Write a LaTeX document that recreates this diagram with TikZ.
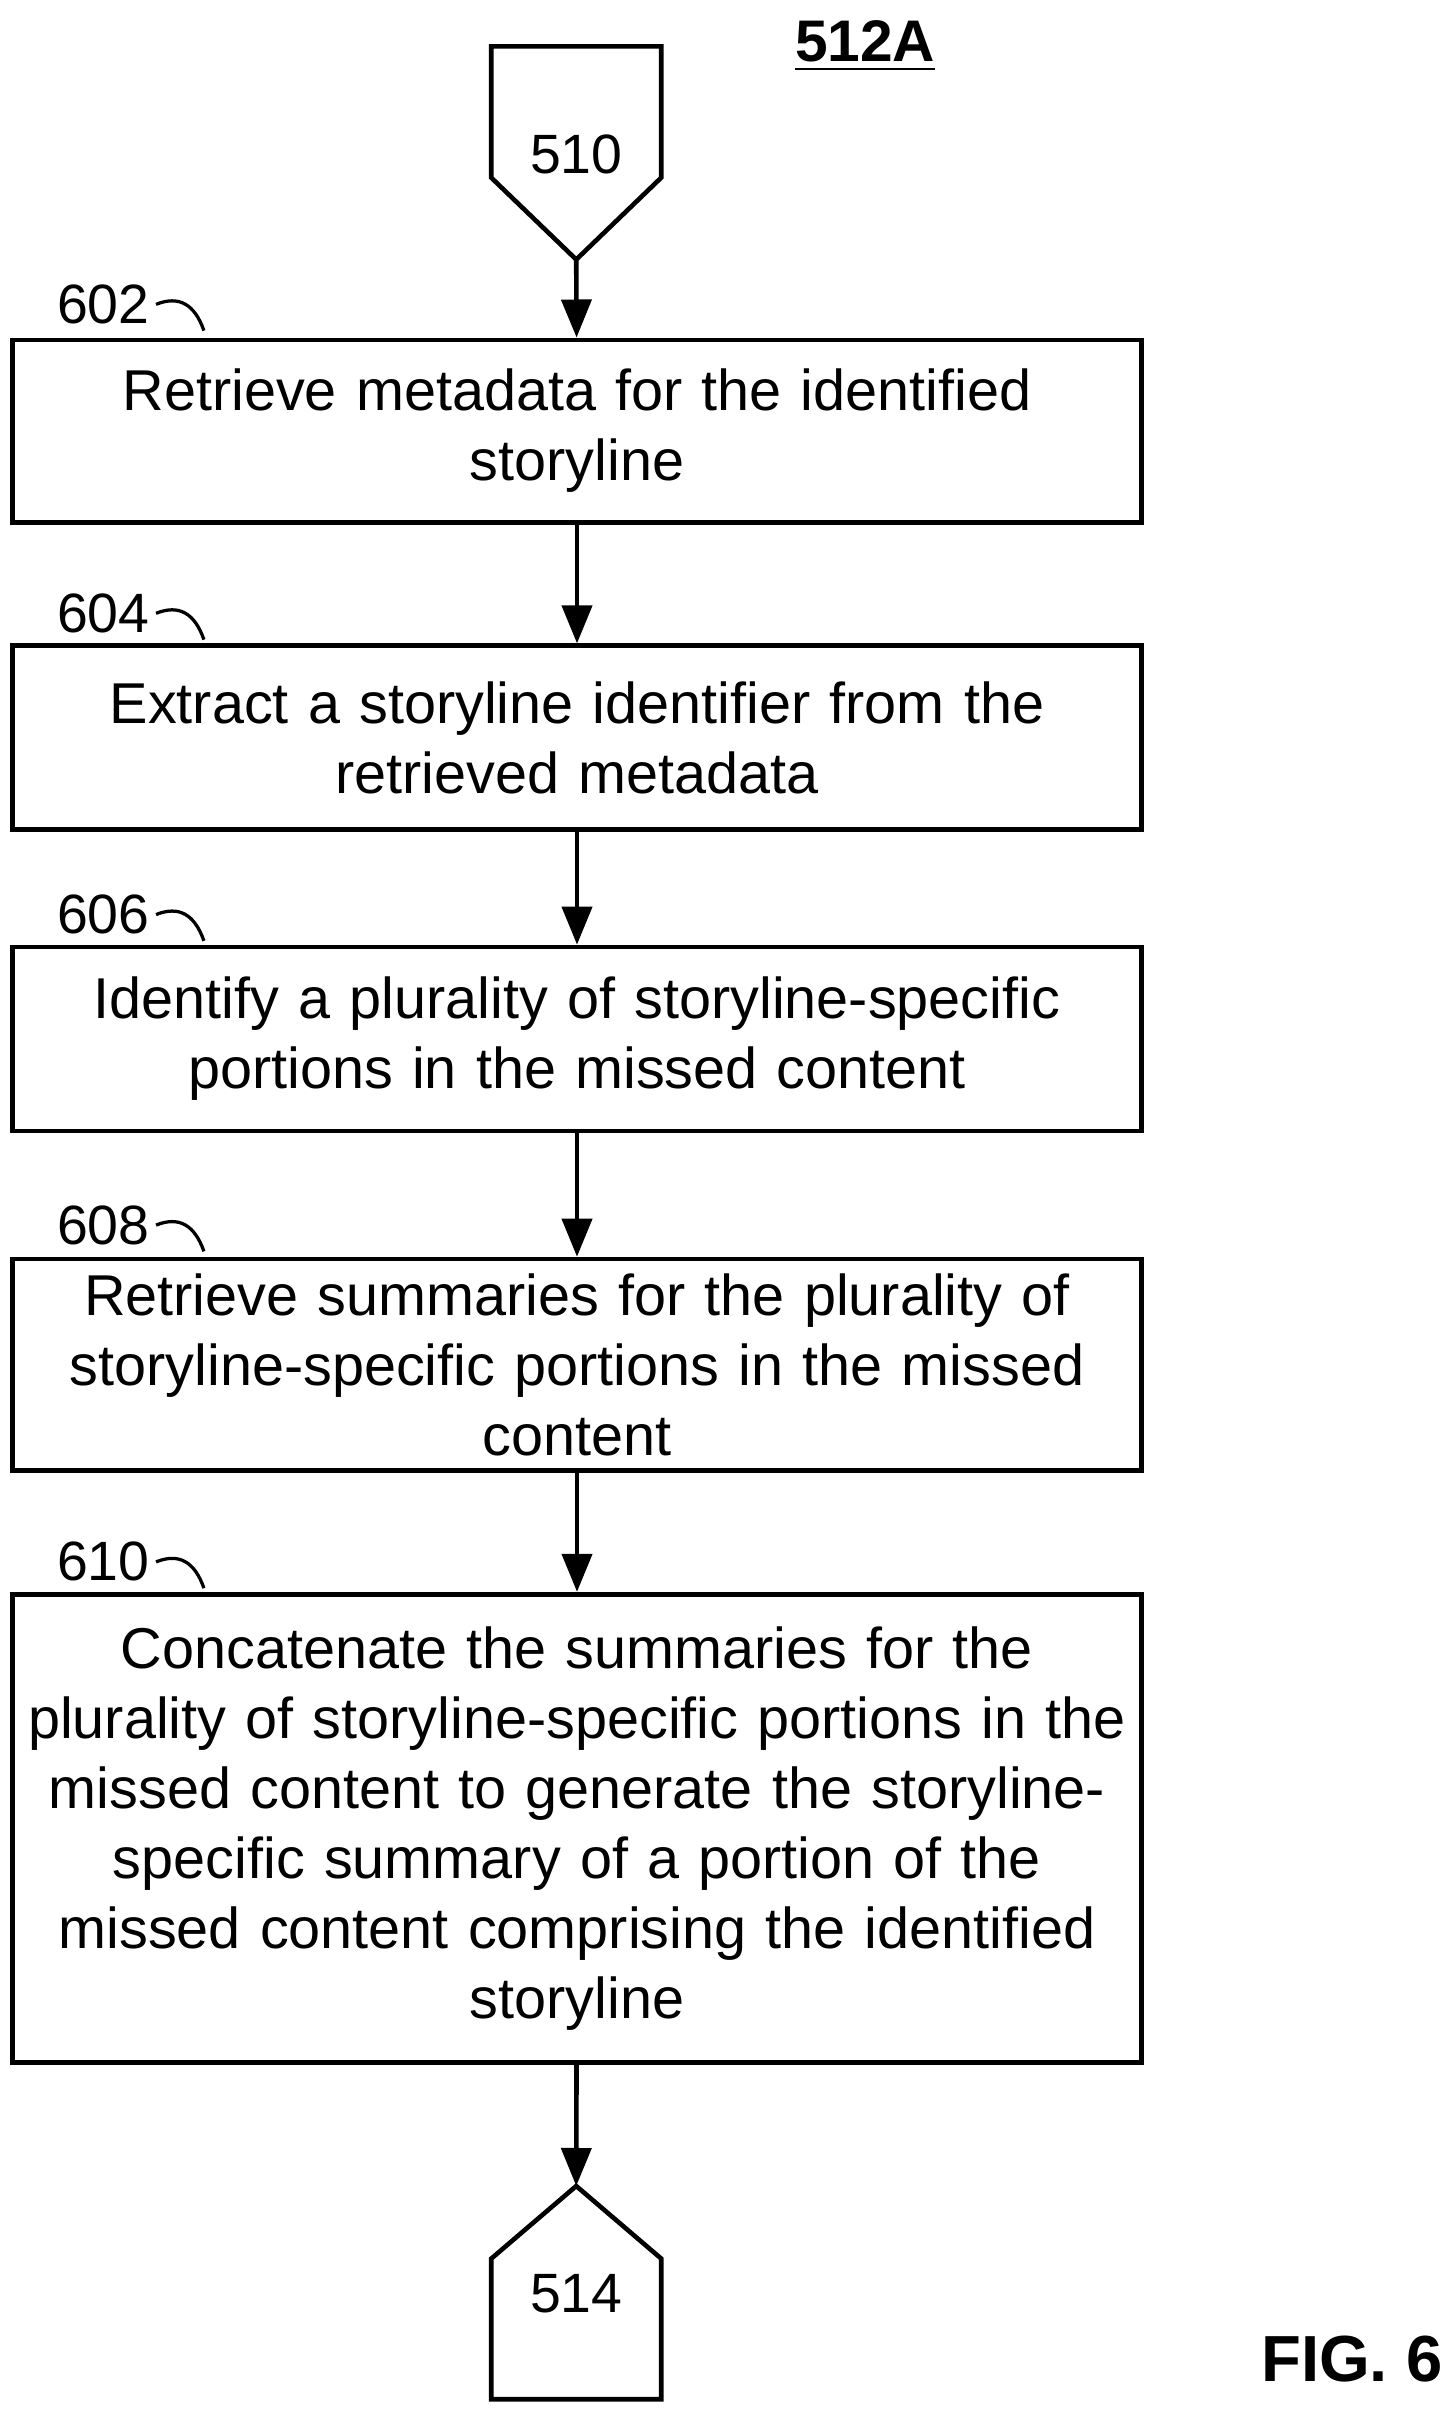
\documentclass[tikz,border=0pt]{standalone}
\usepackage{fontspec}
\setmainfont{Liberation Sans}
\usetikzlibrary{arrows.meta}

\tikzset{
    stepbox/.style={rectangle,draw,line width=0.85pt,minimum width=7.15cm,
        text width=7.3cm,align=center,inner sep=0pt,
        font=\fontsize{10.6}{12.9}\selectfont},
    flow/.style={line width=0.85pt,-{Triangle[length=7pt,width=5.5pt]}},
    tag/.style={font=\fontsize{10.2}{12}\selectfont},
}

\begin{document}
\begin{tikzpicture}[x=0.01cm,y=-0.01cm]
    \useasboundingbox (0,0) rectangle (940,1560);
    \node[font=\bfseries\fontsize{10.8}{12}\selectfont] (title) at (560,30) {\underline{512A}};
    % off-page connectors
    \draw[line width=0.85pt] (318,30) -- (428,30) -- (428,115) -- (373,168) -- (318,115) -- cycle;
    \coordinate (in) at (373,168);
    \node[tag] (c510) at (373,100) {510};
    \draw[line width=0.85pt] (373,1415) -- (428,1462) -- (428,1553) -- (318,1553) -- (318,1462) -- cycle;
    \coordinate (out) at (373,1415);
    \node[tag] (c514) at (373,1485) {514};
    % steps
    \node[stepbox,minimum height=1.18cm] (s602) at (373.5,279) {Retrieve metadata for the identified\\storyline};
    \node[stepbox,minimum height=1.19cm] (s604) at (373.5,477.5) {Extract a storyline identifier from the\\retrieved metadata};
    \node[stepbox,minimum height=1.19cm] (s606) at (373.5,672.5) {Identify a plurality of storyline-specific\\portions in the missed content};
    \node[stepbox,minimum height=1.37cm] (s608) at (373.5,883.5) {Retrieve summaries for the plurality of\\storyline-specific portions in the missed\\content};
    \node[stepbox,minimum height=3.03cm] (s610) at (373.5,1183.5) {Concatenate the summaries for the\\plurality of storyline-specific portions in the\\missed content to generate the storyline-\\specific summary of a portion of the\\missed content comprising the identified\\storyline};
    % labels
    \foreach \n/\y in {602/197,604/397,606/592,608/793,610/1011} {
        \node[tag,anchor=east,inner sep=1pt] (l\n) at (101,\y) {\n};
        \draw[line width=0.6pt] (l\n.east) .. controls (116,\y-6) and (126,\y) .. (132,\y+17);
    }
    % arrows
    \draw[flow] (in) -- (s602);
    \draw[flow] (s602) -- (s604);
    \draw[flow] (s604) -- (s606);
    \draw[flow] (s606) -- (s608);
    \draw[flow] (s608) -- (s610);
    \draw[flow] (s610) -- (out);
    \node[font=\bfseries\fontsize{12}{14}\selectfont] (fig) at (875,1527) {FIG. 6};
\end{tikzpicture}
\end{document}
